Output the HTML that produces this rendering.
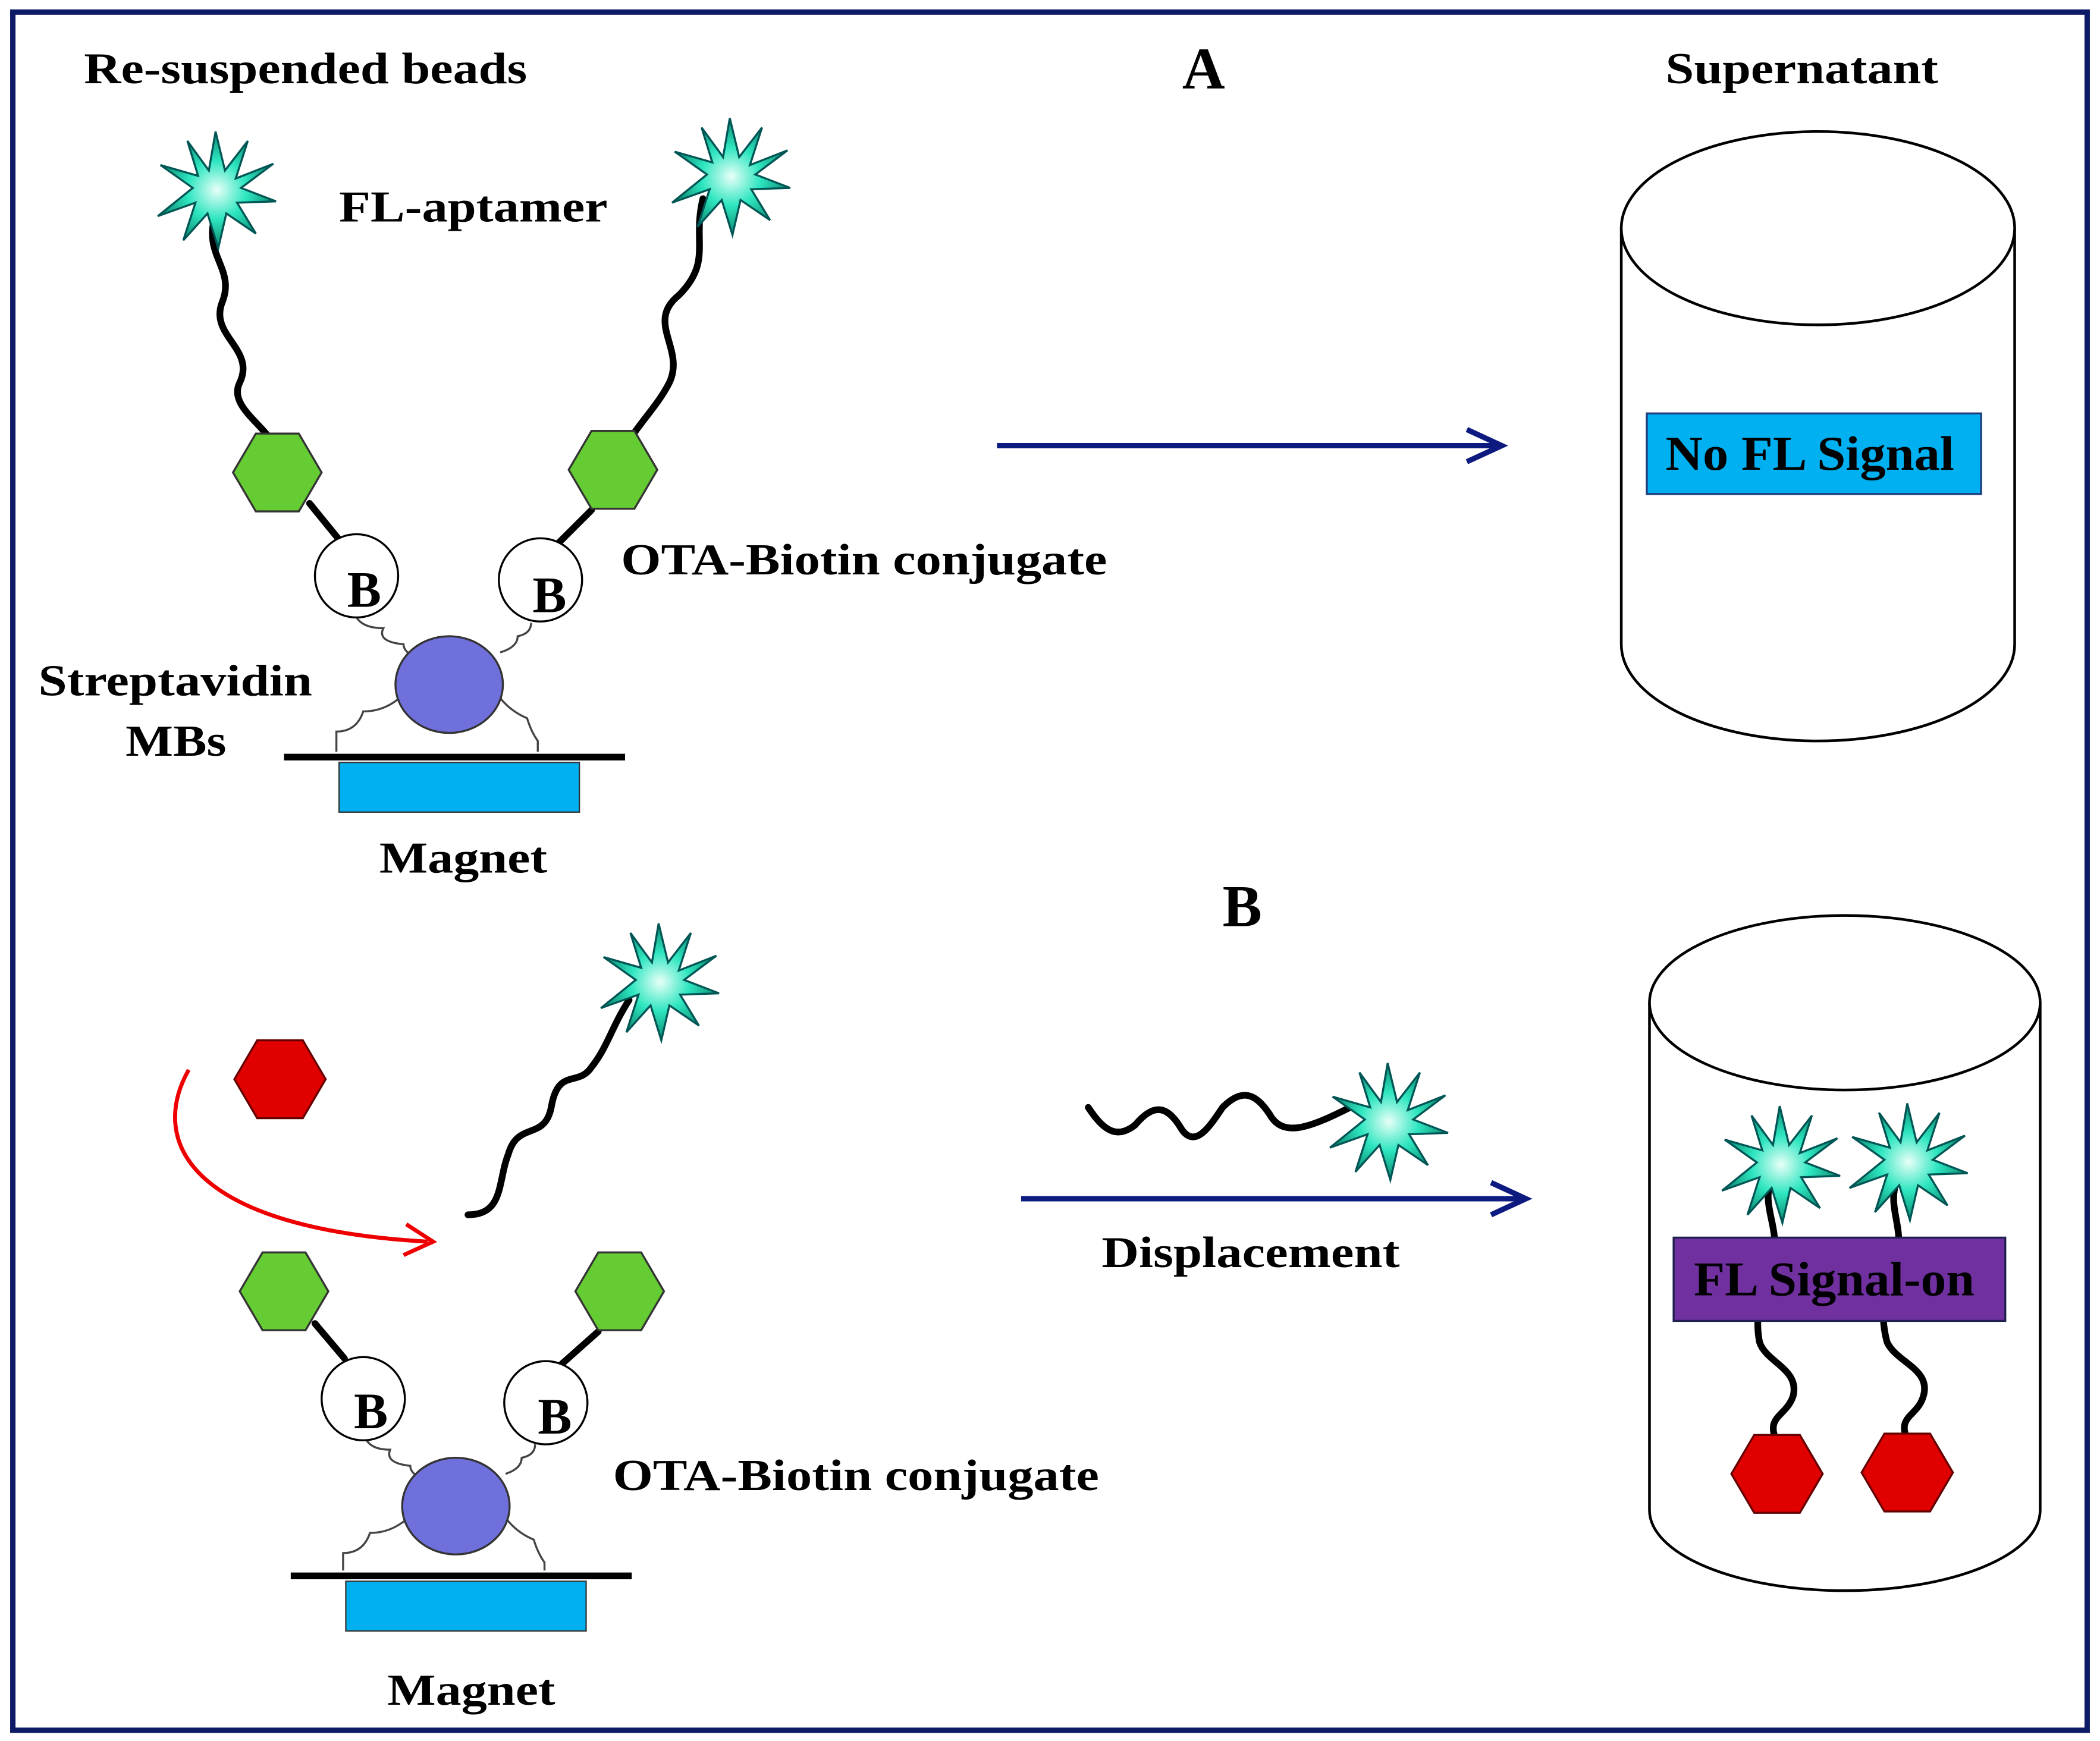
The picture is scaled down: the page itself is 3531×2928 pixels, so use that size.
<!DOCTYPE html>
<html><head><meta charset="utf-8"><style>
html,body{margin:0;padding:0;background:#fff}
svg{display:block}
text{font-family:"Liberation Serif",serif;font-weight:bold;fill:#000}
</style></head><body>
<svg width="3531" height="2928" viewBox="0 0 1563 1297" xmlns="http://www.w3.org/2000/svg">
<defs>
<radialGradient id="sg" cx="50%" cy="50%" r="50%"><stop offset="0" stop-color="#e8fff8"/><stop offset="0.5" stop-color="#2ee6c0"/><stop offset="1" stop-color="#0a8a70"/></radialGradient>
<g id="star"><polygon fill="url(#sg)" stroke="#055" stroke-width="1.5" points="0,-44 7,-15 24,-37 15,-9 43,-20 19,-2 45,8 16,9 30,32 8,17 2,43 -6,17 -24,37 -15,9 -43,19 -17,-2 -41,-19 -13,-11 -21,-37 -5,-15"/></g>
<g id="hexg"><polygon fill="#66cc33" stroke="#333" stroke-width="1.5" points="-33,0 -16,-29 16,-29 33,0 16,29 -16,29"/></g>
<g id="hexr"><polygon fill="#e00000" stroke="#600" stroke-width="1.5" points="-34,0 -17,-29 17,-29 34,0 17,29 -17,29"/></g>
</defs>
<rect x="0" y="0" width="1563" height="1297" fill="#fff"/>
<rect x="9" y="9" width="1545" height="1280" fill="none" stroke="#0d1a66" stroke-width="4"/>

<text x="62" y="62" font-size="33" textLength="330" lengthAdjust="spacingAndGlyphs">Re-suspended beads</text>
<text x="880" y="66" font-size="44">A</text>
<text x="1240" y="62" font-size="33" textLength="203" lengthAdjust="spacingAndGlyphs">Supernatant</text>
<text x="252" y="165" font-size="33" textLength="200" lengthAdjust="spacingAndGlyphs">FL-aptamer</text>

<g fill="none" stroke="#000" stroke-width="5" stroke-linecap="round">
<path d="M160,160 C150,190 175,200 165,225 C155,250 190,260 178,285 C168,305 205,320 208,342"/>
<path d="M523,148 C515,180 530,195 505,220 C480,240 510,260 498,285 C488,305 470,320 462,340"/>
<path d="M230,375 L252,402"/>
<path d="M440,380 L414,406"/>
</g>
<use href="#star" x="160" y="142"/>
<use href="#star" x="543" y="132"/>
<use href="#hexg" x="206" y="352"/>
<use href="#hexg" x="456" y="350"/>
<g fill="none" stroke="#444" stroke-width="1.5">
<path d="M265,460 Q270,468 285,468 Q280,478 300,480 Q300,486 310,490"/>
<path d="M395,464 Q395,472 385,474 Q385,482 372,486"/>
<path d="M297,520 Q285,530 270,530 Q265,545 250,545 L250,560"/>
<path d="M372,520 Q380,530 392,535 Q395,545 400,552 L400,560"/>
</g>
<circle cx="265" cy="429" r="31" fill="#fff" stroke="#000" stroke-width="1.5"/>
<circle cx="402" cy="432" r="31" fill="#fff" stroke="#000" stroke-width="1.5"/>
<text x="258" y="452" font-size="38">B</text>
<text x="396" y="456" font-size="38">B</text>
<ellipse cx="334" cy="510" rx="40" ry="36" fill="#7070dd" stroke="#333" stroke-width="1.5"/>
<line x1="211" y1="564" x2="465" y2="564" stroke="#000" stroke-width="5"/>
<rect x="252" y="568" width="179" height="37" fill="#00b0f0" stroke="#333" stroke-width="1"/>
<text x="28" y="518" font-size="33" textLength="204" lengthAdjust="spacingAndGlyphs">Streptavidin</text>
<text x="93" y="563" font-size="33" textLength="75" lengthAdjust="spacingAndGlyphs">MBs</text>
<text x="282" y="650" font-size="33" textLength="125" lengthAdjust="spacingAndGlyphs">Magnet</text>
<text x="462" y="428" font-size="33" textLength="362" lengthAdjust="spacingAndGlyphs">OTA-Biotin conjugate</text>

<line x1="742" y1="332" x2="1115" y2="332" stroke="#0d1a80" stroke-width="4"/>
<path d="M1092,320 L1118,332 L1092,344" fill="none" stroke="#0d1a80" stroke-width="4"/>

<path d="M1207,170 L1207,480 A146.5,72 0 0 0 1500,480 L1500,170" fill="#fff" stroke="#000" stroke-width="2"/>
<ellipse cx="1353.5" cy="170" rx="146.5" ry="72" fill="#fff" stroke="#000" stroke-width="2"/>
<rect x="1226" y="308" width="249" height="60" fill="#00b0f0" stroke="#1f3f80" stroke-width="1.5"/>
<text x="1240" y="350" font-size="36" textLength="215" lengthAdjust="spacingAndGlyphs">No FL Signal</text>

<text x="910" y="690" font-size="44">B</text>
<use href="#hexr" x="208" y="804"/>
<path d="M140,797 C110,850 140,915 318,925" fill="none" stroke="#e00" stroke-width="3"/>
<path d="M302,912 L322,925 L300,935" fill="none" stroke="#e00" stroke-width="3"/>
<g fill="none" stroke="#000" stroke-width="5" stroke-linecap="round">
<path d="M348,905 C375,905 370,880 378,860 C385,835 405,850 410,825 C415,795 430,810 440,795 C452,780 455,765 468,745"/>
<path d="M810,825 C820,840 830,850 845,838 C860,820 870,825 880,842 C890,855 900,840 910,825 C925,810 935,815 945,830 C955,848 975,840 1005,825"/>
<path d="M234,986 L256,1012"/>
<path d="M445,992 L418,1016"/>
</g>
<use href="#star" x="490" y="732"/>
<use href="#star" x="1033" y="836"/>
<use href="#hexg" x="211" y="962"/>
<use href="#hexg" x="461" y="962"/>
<g fill="none" stroke="#444" stroke-width="1.5">
<path d="M272,1072 Q276,1080 290,1080 Q286,1090 305,1092 Q305,1098 315,1102"/>
<path d="M398,1076 Q398,1084 388,1086 Q388,1094 376,1098"/>
<path d="M302,1132 Q290,1142 275,1142 Q270,1157 255,1157 L255,1170"/>
<path d="M377,1132 Q385,1142 397,1147 Q400,1157 405,1164 L405,1170"/>
</g>
<circle cx="270" cy="1042" r="31" fill="#fff" stroke="#000" stroke-width="1.5"/>
<circle cx="406" cy="1045" r="31" fill="#fff" stroke="#000" stroke-width="1.5"/>
<text x="263" y="1064" font-size="38">B</text>
<text x="400" y="1068" font-size="38">B</text>
<ellipse cx="339" cy="1122" rx="40" ry="36" fill="#7070dd" stroke="#333" stroke-width="1.5"/>
<line x1="216" y1="1174" x2="470" y2="1174" stroke="#000" stroke-width="5"/>
<rect x="257" y="1178" width="179" height="37" fill="#00b0f0" stroke="#333" stroke-width="1"/>
<text x="456" y="1110" font-size="33" textLength="362" lengthAdjust="spacingAndGlyphs">OTA-Biotin conjugate</text>
<text x="288" y="1270" font-size="33" textLength="125" lengthAdjust="spacingAndGlyphs">Magnet</text>

<line x1="760" y1="893" x2="1133" y2="893" stroke="#0d1a80" stroke-width="4"/>
<path d="M1110,881 L1136,893 L1110,905" fill="none" stroke="#0d1a80" stroke-width="4"/>
<text x="820" y="944" font-size="33" textLength="222" lengthAdjust="spacingAndGlyphs">Displacement</text>

<path d="M1228,747 L1228,1125 A145.5,60 0 0 0 1519,1125 L1519,747" fill="#fff" stroke="#000" stroke-width="2"/>
<ellipse cx="1373.5" cy="747" rx="145.5" ry="65" fill="#fff" stroke="#000" stroke-width="2"/>
<g fill="none" stroke="#000" stroke-width="5" stroke-linecap="round">
<path d="M1318,880 C1312,900 1325,915 1320,935 C1315,955 1305,975 1310,1000 C1315,1015 1340,1020 1335,1040 C1330,1055 1315,1055 1322,1072"/>
<path d="M1412,880 C1405,900 1418,915 1412,935 C1405,955 1398,975 1405,1000 C1412,1015 1438,1020 1432,1040 C1428,1055 1412,1055 1420,1072"/>
</g>
<use href="#star" x="1325" y="868"/>
<use href="#star" x="1420" y="866"/>
<rect x="1246" y="922" width="247" height="62" fill="#7030a0" stroke="#1f1f50" stroke-width="1.5"/>
<text x="1261" y="965" font-size="36" textLength="209" lengthAdjust="spacingAndGlyphs">FL Signal-on</text>
<use href="#hexr" x="1323" y="1098"/>
<use href="#hexr" x="1420" y="1097"/>
</svg>
</body></html>
